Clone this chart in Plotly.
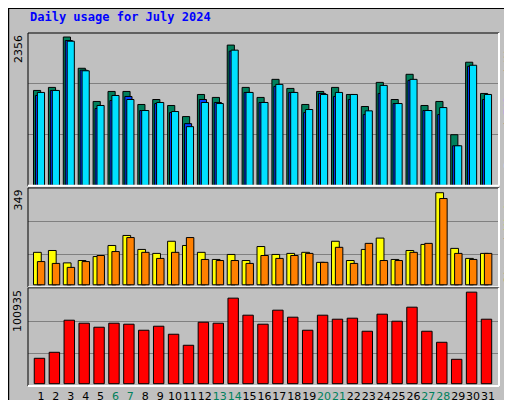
import plotly.graph_objects as go

days = list(range(1, 32))
weekend = [6, 7, 13, 14, 20, 21, 27, 28]

hits = [1508, 1556, 2356, 1860, 1333, 1492, 1492, 1285, 1364, 1269, 1093, 1444, 1397, 2228, 1556, 1397,
        1684, 1540, 1285, 1492, 1556, 1444, 1253, 1636, 1364, 1764, 1269, 1333, 805, 1956, 1460]
files = [1428, 1508, 2300, 1830, 1221, 1348, 1412, 1189, 1300, 1157, 981, 1364, 1317, 2132, 1476, 1317,
         1572, 1476, 1157, 1460, 1412, 1364, 1125, 1460, 1300, 1668, 1189, 1125, 629, 1892, 1364]
pages = [1476, 1508, 2290, 1820, 1269, 1428, 1364, 1189, 1317, 1173, 933, 1317, 1300, 2148, 1476, 1317,
         1604, 1476, 1205, 1444, 1476, 1444, 1184, 1588, 1300, 1684, 1189, 1236, 629, 1908, 1444]
sites = [123, 130, 83, 92, 107, 149, 187, 134, 119, 165, 149, 123, 96, 115, 92, 145,
         115, 119, 123, 85, 165, 92, 134, 177, 96, 130, 153, 349, 138, 100, 119]
visits = [88, 81, 66, 88, 111, 126, 179, 123, 100, 123, 179, 96, 92, 92, 81, 111,
          100, 111, 119, 85, 142, 81, 157, 92, 92, 123, 157, 327, 119, 96, 119]
kbytes = [28000, 34630, 70000, 66680, 62260, 66680, 65580, 58940, 63360, 54520, 42370, 67790, 66680, 94310,
          75520, 65580, 81050, 73310, 58940, 75520, 71100, 72210, 57840, 76630, 68890, 84360, 57840, 45680,
          26890, 100935, 71100]

ticktext = [f"<span style='color:#00805c'>{d}</span>" if d in weekend else str(d) for d in days]

fig = go.Figure()
line = dict(color="black", width=1)


def bar(y, color, offset, width, yaxis):
    fig.add_trace(go.Bar(x=days, y=y, marker=dict(color=color, line=line),
                         offset=offset, width=width, xaxis="x", yaxis=yaxis, hoverinfo="y"))


bar(hits, "#00805c", -0.5, 0.48, "y")
bar(files, "#0040ff", -0.37, 0.48, "y")
bar(pages, "#00e0ff", -0.24, 0.48, "y")
bar(sites, "#ffff00", -0.5, 0.52, "y2")
bar(visits, "#ff8000", -0.24, 0.5, "y2")
bar(kbytes, "#ff0000", -0.45, 0.7, "y3")

grid = dict(showticklabels=False, showgrid=True, gridcolor="#808080", gridwidth=1,
            zeroline=False, fixedrange=True, automargin=False)
fig.update_layout(
    width=512, height=400,
    margin=dict(l=20, r=21, t=25, b=22, autoexpand=False),
    paper_bgcolor="#c0c0c0", plot_bgcolor="#c0c0c0",
    showlegend=False, barmode="overlay",
    font=dict(family="DejaVu Sans", size=11, color="black"),
    xaxis=dict(range=[0.13, 31.74], tickvals=days, ticktext=ticktext, showgrid=False,
               ticks="", anchor="y3", tickangle=0, automargin=False, ticklabelstandoff=2,
               tickfont=dict(size=11)),
    yaxis=dict(domain=[0.567, 1], range=[-7, 2420], tickvals=[812, 1623], **grid),
    yaxis2=dict(domain=[0.28, 0.561], range=[-9, 367], tickvals=[115, 240], **grid),
    yaxis3=dict(domain=[0, 0.278], range=[-2540, 105650], tickvals=[32800, 68900], **grid),
)

# panel frames
for y0, y1 in [(0.567, 1), (0.28, 0.561), (0, 0.278)]:
    fig.add_shape(type="line", xref="paper", yref="paper", x0=0, x1=1, y0=y1, y1=y1, line=line)
    fig.add_shape(type="line", xref="paper", yref="paper", x0=0, x1=0, y0=y0, y1=y1, line=line)
    fig.add_shape(type="line", xref="paper", yref="paper", x0=0, x1=1, y0=y0, y1=y0,
                  line=dict(color="white", width=2))
    fig.add_shape(type="line", xref="paper", yref="paper", x0=1, x1=1, y0=y0, y1=y1,
                  line=dict(color="white", width=2))

# outer bevel
fig.add_shape(type="rect", xref="paper", yref="paper", x0=-0.042, x1=1.044, y0=-0.062, y1=1.071,
              line=dict(color="black", width=2))
fig.add_shape(type="line", xref="paper", yref="paper", x0=1.034, x1=1.034, y0=-0.05, y1=1.06,
              line=dict(color="#808080", width=5))
fig.add_shape(type="line", xref="paper", yref="paper", x0=-0.03, x1=1.034, y0=-0.05, y1=-0.05,
              line=dict(color="#808080", width=5))

mono = "DejaVu Sans Mono"
fig.add_annotation(text="<b>Daily usage for July 2024</b>", xref="paper", yref="paper", x=0, y=1.045,
                   xanchor="left", yanchor="middle", showarrow=False,
                   font=dict(family=mono, size=12, color="#0000ff"))
for txt, y in [("2356", 1.0), ("349", 0.561), ("100935", 0.278)]:
    fig.add_annotation(text=txt, xref="paper", yref="paper", x=-0.003, y=y, xanchor="right",
                       yanchor="top", textangle=-90, showarrow=False, font=dict(size=11))
fig.add_annotation(text="<span style='color:#00e0ff'>Pages</span> / <span style='color:#0040ff'>Files</span>"
                        " / <span style='color:#00805c'>Hits</span>",
                   xref="paper", yref="paper", x=1.003, y=1.0, xanchor="left", yanchor="top",
                   textangle=-90, showarrow=False, font=dict(family=mono, size=11))
fig.add_annotation(text="<span style='color:#ff8000'>Sites</span> / <span style='color:#ffff00'>Visits</span>",
                   xref="paper", yref="paper", x=1.003, y=0.561, xanchor="left", yanchor="top",
                   textangle=-90, showarrow=False, font=dict(family=mono, size=11))
fig.add_annotation(text="KBytes", xref="paper", yref="paper", x=1.003, y=0.0, xanchor="left",
                   yanchor="bottom", textangle=-90, showarrow=False,
                   font=dict(family=mono, size=11, color="#ff0000"))

fig.write_html("out.html")
